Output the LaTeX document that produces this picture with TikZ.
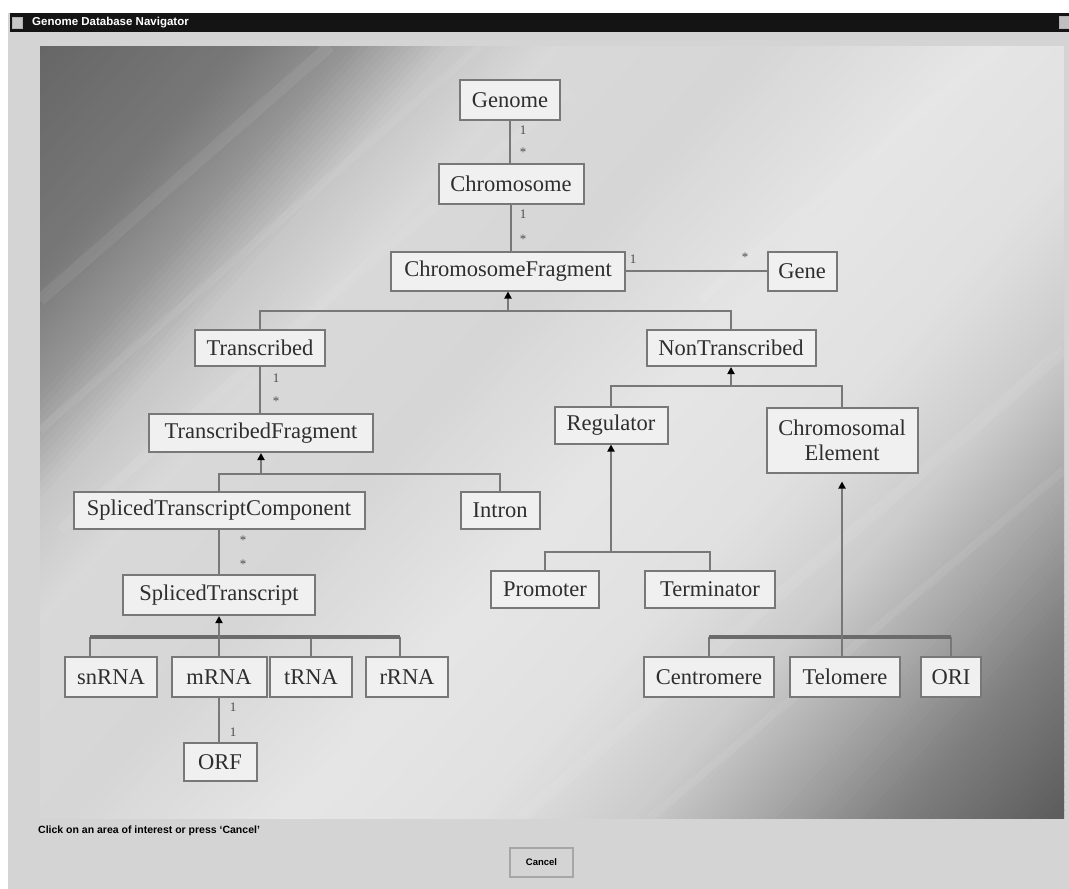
\documentclass[tikz,border=0pt]{standalone}
\usepackage{fontspec}
\setmainfont{Liberation Serif}
\newfontfamily\uisans{Liberation Sans}
\usetikzlibrary{arrows.meta}

\definecolor{winbg}{gray}{0.83}
\definecolor{boxfill}{gray}{0.94}
\definecolor{boxline}{gray}{0.47}
\definecolor{boxtext}{gray}{0.18}
\definecolor{linkgray}{gray}{0.47}
\definecolor{bargray}{gray}{0.42}
\definecolor{multgray}{gray}{0.30}

\begin{document}
\begin{tikzpicture}[x=1pt,y=-1pt,
  cls/.style={draw=boxline, line width=2pt, fill=boxfill, text=boxtext,
    font=\fontsize{22.5}{25}\selectfont, inner sep=0pt, align=center},
  link/.style={draw=linkgray, line width=2pt},
  thickbar/.style={draw=bargray, line width=4.5pt},
  gen/.style={link, -{Triangle[width=7pt,length=7pt,color=black]}},
  mult/.style={font=\fontsize{13}{13}\selectfont, text=multgray, inner sep=0pt}]

\useasboundingbox (0,0) rectangle (1069,889);

% window frame and title bar
\fill[white] (0,0) rectangle (1069,889);
\fill[winbg] (8,13) rectangle (1069,889);
\fill[black!92] (10,13) rectangle (1069,32);
\node[draw=gray!60, fill=gray!45, minimum width=10pt, minimum height=11pt, inner sep=0pt] (icon) at (17,22.5) {};
\node[draw=gray!60, fill=gray!50, minimum width=10pt, minimum height=12pt, inner sep=0pt] (closebtn) at (1064,22.5) {};
\node[anchor=west, text=white, font=\uisans\bfseries\fontsize{11.5}{12}\selectfont, inner sep=0pt] (title) at (32,22.5) {Genome Database Navigator};

% drawing panel: diagonal bands, dark towards the top-left and bottom-right corners
\begin{scope}
  \clip (40,46) rectangle (1064,818);
  \foreach \i in {0,...,239}{
    \pgfmathsetmacro{\fa}{(\i+0.5)/240}
    \pgfmathsetmacro{\g}{0.40+0.583*\fa+1.25*max(0,\fa-0.12)+1.5*max(0,\fa-0.18)
      -2.167*max(0,\fa-0.24)-1.25*max(0,\fa-0.30)+0.545*max(0,\fa-0.42)
      -0.643*max(0,\fa-0.55)-0.707*max(0,\fa-0.66)-0.968*max(0,\fa-0.75)
      -0.268*max(0,\fa-0.82)+0.725*max(0,\fa-0.90)}
    \pgfmathsetmacro{\ta}{40+\i*7.1625-0.8}
    \pgfmathsetmacro{\tb}{40+(\i+1)*7.1625+0.8}
    \definecolor{stripc}{gray}{\g}
    \fill[stripc] (\ta,46) -- (\tb,46) -- (\tb-900,1046) -- (\ta-900,1046) -- cycle;
  }
  % soft brushed streaks
  \foreach \sx/\sy/\ex/\ey/\w in {40/300/330/46/12, 40/430/480/46/8, 60/530/570/90/10,
      520/818/1064/350/12, 650/818/1064/470/8, 700/300/1000/46/10}{
    \draw[white, opacity=0.07, line width=\w pt] (\sx,\sy) -- (\ex,\ey);
  }
\end{scope}

% classes
\node[cls, minimum width=100pt, minimum height=40pt] (genome) at (510,100) {Genome};
\node[cls, minimum width=145pt, minimum height=40pt] (chrom) at (511,184) {Chromosome};
\node[cls, minimum width=234pt, minimum height=39pt] (cfrag) at (508,271) {ChromosomeFragment};
\node[cls, minimum width=69pt, minimum height=39pt] (gene) at (802,271) {Gene};
\node[cls, minimum width=130pt, minimum height=36pt] (transcribed) at (260,348) {Transcribed};
\node[cls, minimum width=169pt, minimum height=36pt] (nontrans) at (731,348) {NonTranscribed};
\node[cls, minimum width=224pt, minimum height=38pt] (tfrag) at (261,433) {TranscribedFragment};
\node[cls, minimum width=291pt, minimum height=37pt] (stc) at (219,510) {SplicedTranscriptComponent};
\node[cls, minimum width=79pt, minimum height=37pt] (intron) at (500,510) {Intron};
\node[cls, minimum width=192pt, minimum height=40pt] (stranscript) at (219,595) {SplicedTranscript};
\node[cls, minimum width=92pt, minimum height=40pt] (snrna) at (111,677) {snRNA};
\node[cls, minimum width=95pt, minimum height=40pt] (mrna) at (219,677) {mRNA};
\node[cls, minimum width=82pt, minimum height=40pt] (trna) at (311,677) {tRNA};
\node[cls, minimum width=82pt, minimum height=40pt] (rrna) at (407,677) {rRNA};
\node[cls, minimum width=73pt, minimum height=38pt] (orf) at (220,762) {ORF};
\node[cls, minimum width=113pt, minimum height=37pt] (regulator) at (611,425) {Regulator};
\node[cls, minimum width=151pt, minimum height=65pt] (chromel) at (842,440) {Chromosomal\\Element};
\node[cls, minimum width=108pt, minimum height=37pt] (promoter) at (545,589) {Promoter};
\node[cls, minimum width=130pt, minimum height=37pt] (terminator) at (710,589) {Terminator};
\node[cls, minimum width=130pt, minimum height=40pt] (centromere) at (709,677) {Centromere};
\node[cls, minimum width=110pt, minimum height=40pt] (telomere) at (845,677) {Telomere};
\node[cls, minimum width=60pt, minimum height=40pt] (ori) at (951,677) {ORI};

% associations with multiplicities
\draw[link] (genome.south) -- (genome.south |- chrom.north);
\node[mult] (m1a) at (523,130) {1};
\node[mult] (m1b) at (523,152) {*};
\draw[link] (chrom.south) -- (chrom.south |- cfrag.north);
\node[mult] (m2a) at (523,214) {1};
\node[mult] (m2b) at (523,239) {*};
\draw[link] (cfrag.east) -- (gene.west);
\node[mult] (m3a) at (633,259) {1};
\node[mult] (m3b) at (745,257) {*};
\draw[link] (transcribed.south) -- (transcribed.south |- tfrag.north);
\node[mult] (m4a) at (276,378) {1};
\node[mult] (m4b) at (276,401) {*};
\draw[link] (stc.south) -- (stc.south |- stranscript.north);
\node[mult] (m5a) at (243,540) {*};
\node[mult] (m5b) at (243,564) {*};
\draw[link] (mrna.south) -- (mrna.south |- orf.north);
\node[mult] (m6a) at (233,707) {1};
\node[mult] (m6b) at (233,732) {1};

% generalizations
\coordinate (j1) at (508,311);
\draw[link] (transcribed.north) |- (j1) -| (nontrans.north);
\draw[gen] (j1) -- (cfrag.south);

\coordinate (j2) at (731,386);
\draw[link] (regulator.north) |- (j2) -| (chromel.north);
\draw[gen] (j2) -- (nontrans.south);

\coordinate (j3) at (261,474);
\draw[link] (stc.north) |- (j3) -| (intron.north);
\draw[gen] (j3) -- (tfrag.south);

\coordinate (j4) at (611,552);
\draw[link] (promoter.north) |- (j4) -| (terminator.north);
\draw[gen] (j4) -- (regulator.south);

\coordinate (j5l) at (90,637);
\coordinate (j5r) at (400,637);
\draw[link] ([xshift=-21pt]snrna.north) -- (j5l);
\draw[link] (trna.north) -- (trna.north |- j5l);
\draw[link] ([xshift=-7pt]rrna.north) -- (j5r);
\draw[thickbar] (j5l) -- (j5r);
\draw[gen] (mrna.north) -- (stranscript.south);

\coordinate (j6l) at (709,637);
\coordinate (j6r) at (951,637);
\draw[link] (centromere.north) -- (j6l);
\draw[link] (ori.north) -- (j6r);
\draw[thickbar] (j6l) -- (j6r);
\draw[gen] (chromel.south |- telomere.north) -- ([yshift=-8pt]chromel.south);

% status line and button
\node[anchor=west, text=black, font=\uisans\bfseries\fontsize{10.5}{11}\selectfont, inner sep=0pt] (hint) at (38,831) {Click on an area of interest or press ‘Cancel’};
\node[draw=gray!70, line width=1.5pt, fill=winbg, minimum width=63pt, minimum height=29pt, inner sep=0pt,
  font=\uisans\bfseries\fontsize{9.5}{10}\selectfont] (cancel) at (541.5,862.5) {Cancel};
\end{tikzpicture}
\end{document}
